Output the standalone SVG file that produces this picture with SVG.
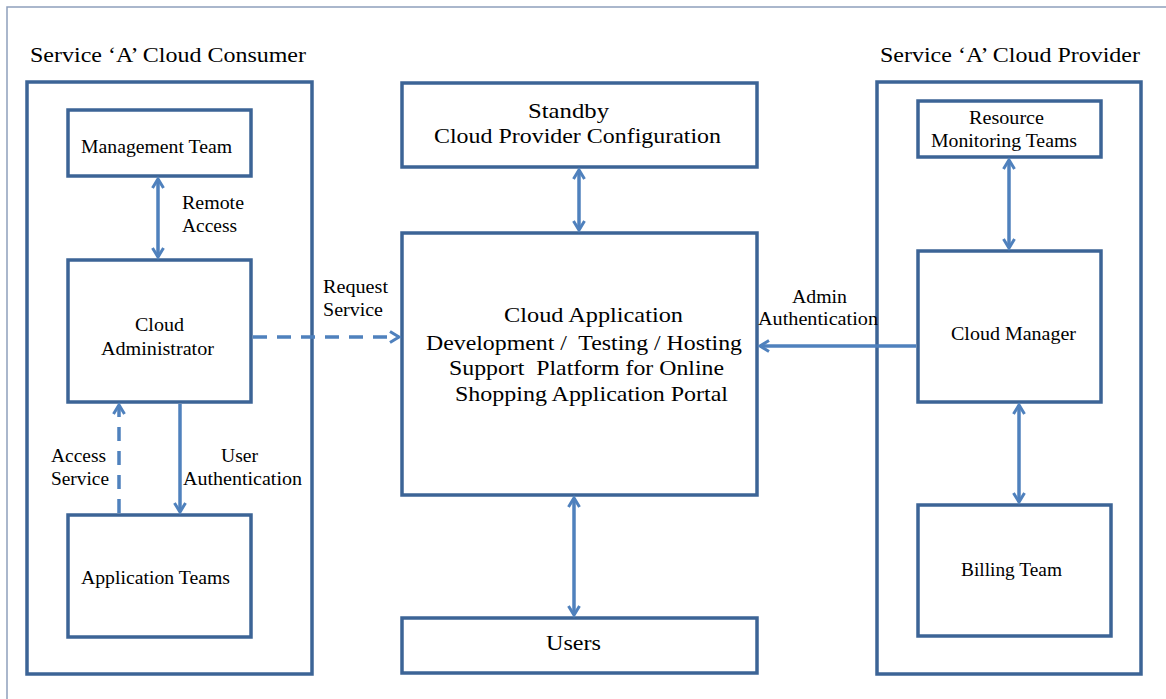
<svg xmlns="http://www.w3.org/2000/svg" width="1166" height="699" viewBox="0 0 1166 699">
<style>
.box{fill:#fff;stroke:#3c6496;stroke-width:3.5;}
.frame{fill:none;stroke:#8fa0bc;stroke-width:1.5;}
.t{font-family:"Liberation Serif","Times New Roman",serif;fill:#000;}
.s18{font-size:18px;}
.s22{font-size:22px;}
.ln{fill:none;stroke:#4f81bd;stroke-width:3.5;}
.dash{stroke-dasharray:14 10;}
</style>
<defs>
<marker id="ah" markerWidth="14" markerHeight="14" refX="11" refY="7" orient="auto-start-reverse" markerUnits="userSpaceOnUse">
<path d="M2,1.5 L11,7 L2,12.5" fill="none" stroke="#4f81bd" stroke-width="3"/>
</marker>
</defs>
<rect x="0" y="0" width="1166" height="699" fill="#fff"/>
<path class="frame" d="M7,699 L7,7 L1166,7"/>

<g id="consumer">
<rect class="box" x="27" y="82" width="285" height="592"/>
<text class="t s22" x="30" y="62" textLength="276" lengthAdjust="spacingAndGlyphs">Service ‘A’ Cloud Consumer</text>
</g>
<g id="provider">
<rect class="box" x="877" y="82" width="264" height="592"/>
<text class="t s22" x="880" y="62" textLength="260" lengthAdjust="spacingAndGlyphs">Service ‘A’ Cloud Provider</text>
</g>

<g id="management">
<rect class="box" x="68" y="110" width="183" height="66"/>
<text class="t s18" x="81" y="153" textLength="151" lengthAdjust="spacingAndGlyphs">Management Team</text>
</g>
<g id="admin">
<rect class="box" x="68" y="260" width="183" height="142"/>
<text class="t s18" x="135" y="331" textLength="49" lengthAdjust="spacingAndGlyphs">Cloud</text>
<text class="t s18" x="101" y="355" textLength="113" lengthAdjust="spacingAndGlyphs">Administrator</text>
</g>
<g id="appteams">
<rect class="box" x="68" y="515" width="183" height="122"/>
<text class="t s18" x="81" y="584" textLength="149" lengthAdjust="spacingAndGlyphs">Application Teams</text>
</g>
<g id="standby">
<rect class="box" x="402" y="83" width="355" height="84"/>
<text class="t s22" x="528" y="118" textLength="81" lengthAdjust="spacingAndGlyphs">Standby</text>
<text class="t s22" x="434" y="143" textLength="287" lengthAdjust="spacingAndGlyphs">Cloud Provider Configuration</text>
</g>
<g id="platform">
<rect class="box" x="402" y="233" width="355" height="262"/>
<text class="t s22" x="504" y="322" textLength="179" lengthAdjust="spacingAndGlyphs">Cloud Application</text>
<text class="t s22" x="426" y="350" textLength="316" lengthAdjust="spacingAndGlyphs" xml:space="preserve">Development /  Testing / Hosting</text>
<text class="t s22" x="449" y="375" textLength="275" lengthAdjust="spacingAndGlyphs" xml:space="preserve">Support  Platform for Online</text>
<text class="t s22" x="455" y="401" textLength="273" lengthAdjust="spacingAndGlyphs">Shopping Application Portal</text>
</g>
<g id="users">
<rect class="box" x="402" y="618" width="355" height="55"/>
<text class="t s22" x="546" y="650" textLength="55" lengthAdjust="spacingAndGlyphs">Users</text>
</g>
<g id="resmon">
<rect class="box" x="918" y="101" width="183" height="56"/>
<text class="t s18" x="969" y="124" textLength="75" lengthAdjust="spacingAndGlyphs">Resource</text>
<text class="t s18" x="931" y="147" textLength="146" lengthAdjust="spacingAndGlyphs">Monitoring Teams</text>
</g>
<g id="cloudmgr">
<rect class="box" x="918" y="251" width="183" height="151"/>
<text class="t s18" x="951" y="340" textLength="125" lengthAdjust="spacingAndGlyphs">Cloud Manager</text>
</g>
<g id="billing">
<rect class="box" x="918" y="505" width="193" height="131"/>
<text class="t s18" x="961" y="576" textLength="101" lengthAdjust="spacingAndGlyphs">Billing Team</text>
</g>

<g id="connectors">
<line class="ln" x1="158" y1="179" x2="158" y2="257" marker-start="url(#ah)" marker-end="url(#ah)"/>
<line class="ln" x1="180" y1="404" x2="180" y2="512" marker-end="url(#ah)"/>
<line class="ln dash" x1="119" y1="513" x2="119" y2="405" marker-end="url(#ah)"/>
<line class="ln dash" x1="253" y1="337" x2="399" y2="337" marker-end="url(#ah)"/>
<line class="ln" x1="579" y1="170" x2="579" y2="230" marker-start="url(#ah)" marker-end="url(#ah)"/>
<line class="ln" x1="574" y1="498" x2="574" y2="615" marker-start="url(#ah)" marker-end="url(#ah)"/>
<line class="ln" x1="916" y1="346" x2="760" y2="346" marker-end="url(#ah)"/>
<line class="ln" x1="1009" y1="160" x2="1009" y2="248" marker-start="url(#ah)" marker-end="url(#ah)"/>
<line class="ln" x1="1019" y1="405" x2="1019" y2="502" marker-start="url(#ah)" marker-end="url(#ah)"/>
<text class="t s18" x="182" y="209" textLength="62" lengthAdjust="spacingAndGlyphs">Remote</text>
<text class="t s18" x="182" y="232" textLength="55" lengthAdjust="spacingAndGlyphs">Access</text>
<text class="t s18" x="323" y="293" textLength="65" lengthAdjust="spacingAndGlyphs">Request</text>
<text class="t s18" x="323" y="316" textLength="60" lengthAdjust="spacingAndGlyphs">Service</text>
<text class="t s18" x="51" y="462" textLength="55" lengthAdjust="spacingAndGlyphs">Access</text>
<text class="t s18" x="51" y="485" textLength="58" lengthAdjust="spacingAndGlyphs">Service</text>
<text class="t s18" x="221" y="462" textLength="37" lengthAdjust="spacingAndGlyphs">User</text>
<text class="t s18" x="183" y="485" textLength="119" lengthAdjust="spacingAndGlyphs">Authentication</text>
<text class="t s18" x="792" y="303" textLength="55" lengthAdjust="spacingAndGlyphs">Admin</text>
<text class="t s18" x="758" y="325" textLength="120" lengthAdjust="spacingAndGlyphs">Authentication</text>
</g>
</svg>
